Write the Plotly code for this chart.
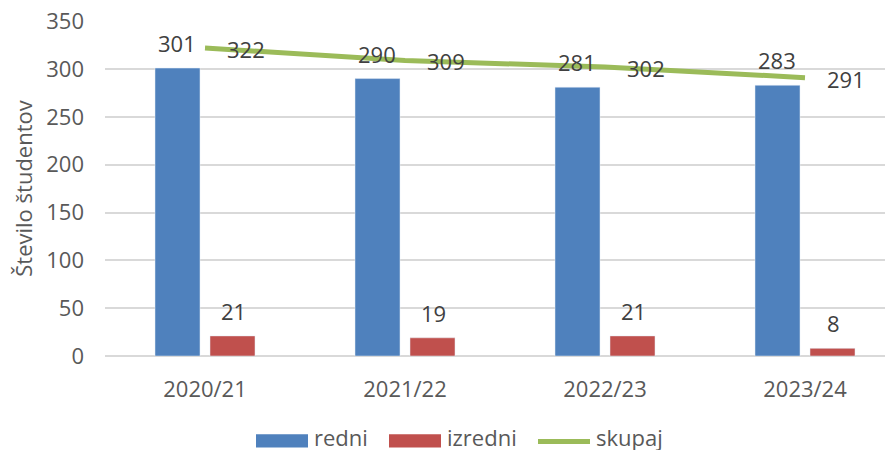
import plotly.graph_objects as go

categories = ["2020/21", "2021/22", "2022/23", "2023/24"]
redni = [301, 290, 281, 283]
izredni = [21, 19, 21, 8]
skupaj = [322, 309, 302, 291]
y_ticks = [0, 50, 100, 150, 200, 250, 300, 350]

FONT = "Open Sans"
FS = 22
BLUE = "#4F81BD"
RED = "#C0504D"
GREEN = "#9BBB59"
AXIS_TXT = "#595959"
LBL_TXT = "#404040"

# the page body has an 8px margin, so the figure is drawn at (8, 8) on screen
OFF = 8
W, H = 885, 442
L, R, T, B = 97, 0, 13, 94.3
PW, PH = W - L - R, H - T - B


def px(sx):
    return (sx - OFF - L) / PW


def py(sy):
    return (H - B - (sy - OFF)) / PH


fig = go.Figure()
fig.add_trace(go.Bar(x=categories, y=redni, name="redni", marker_color=BLUE,
                     width=0.225, offset=-0.25))
fig.add_trace(go.Bar(x=categories, y=izredni, name="izredni", marker_color=RED,
                     width=0.225, offset=0.025))
fig.add_trace(go.Scatter(x=categories, y=skupaj, name="skupaj", mode="lines",
                         line=dict(color=GREEN, width=5)))

annotations = []
for c, v in zip(categories, redni):
    annotations.append(dict(x=c, y=v, text=str(v), showarrow=False, xshift=-28, yshift=25,
                            font=dict(family=FONT, size=FS, color=LBL_TXT)))
for c, v in zip(categories, izredni):
    annotations.append(dict(x=c, y=v, text=str(v), showarrow=False, xshift=28, yshift=25,
                            font=dict(family=FONT, size=FS, color=LBL_TXT)))
for c, v in zip(categories, skupaj):
    annotations.append(dict(x=c, y=v, text=str(v), showarrow=False, xshift=41, yshift=-1,
                            font=dict(family=FONT, size=FS, color=LBL_TXT)))

# legend (drawn manually to match the wide swatches)
legend_names = ["redni", "izredni", "skupaj"]
legend_text_x = [312, 445, 594]
for name, tx in zip(legend_names, legend_text_x):
    annotations.append(dict(xref="paper", yref="paper", x=px(tx), y=py(437), xanchor="left",
                            yanchor="middle", text=name, showarrow=False,
                            font=dict(family=FONT, size=FS, color=AXIS_TXT)))
shapes = [
    dict(type="rect", xref="paper", yref="paper", x0=px(256), x1=px(308), y0=py(447), y1=py(434),
         fillcolor=BLUE, line=dict(width=0)),
    dict(type="rect", xref="paper", yref="paper", x0=px(389), x1=px(441), y0=py(447), y1=py(434),
         fillcolor=RED, line=dict(width=0)),
    dict(type="line", xref="paper", yref="paper", x0=px(538), x1=px(590), y0=py(441), y1=py(441),
         line=dict(color=GREEN, width=5)),
]

fig.update_layout(
    width=W, height=H,
    margin=dict(l=L, r=R, t=T, b=B, autoexpand=False),
    paper_bgcolor="white", plot_bgcolor="white",
    font=dict(family=FONT, size=FS, color=AXIS_TXT),
    showlegend=False,
    annotations=annotations,
    shapes=shapes,
)
fig.update_xaxes(range=[-0.5, 3.44], showgrid=False, showline=False, zeroline=False,
                 ticks="", ticklabelstandoff=18, automargin=False,
                 tickfont=dict(family=FONT, size=FS, color=AXIS_TXT))
fig.update_yaxes(range=[0, 350.2], tickvals=y_ticks, showgrid=True, gridcolor="#D9D9D9",
                 gridwidth=1.5, zeroline=True, zerolinecolor="#D9D9D9", zerolinewidth=1.5,
                 showline=False, ticks="", ticklabelstandoff=20, automargin=False,
                 ticklabeloverflow="allow",
                 tickfont=dict(family=FONT, size=FS, color=AXIS_TXT),
                 title=dict(text="Število študentov", standoff=10,
                            font=dict(family=FONT, size=FS, color=AXIS_TXT)))

fig.write_html("out.html")
